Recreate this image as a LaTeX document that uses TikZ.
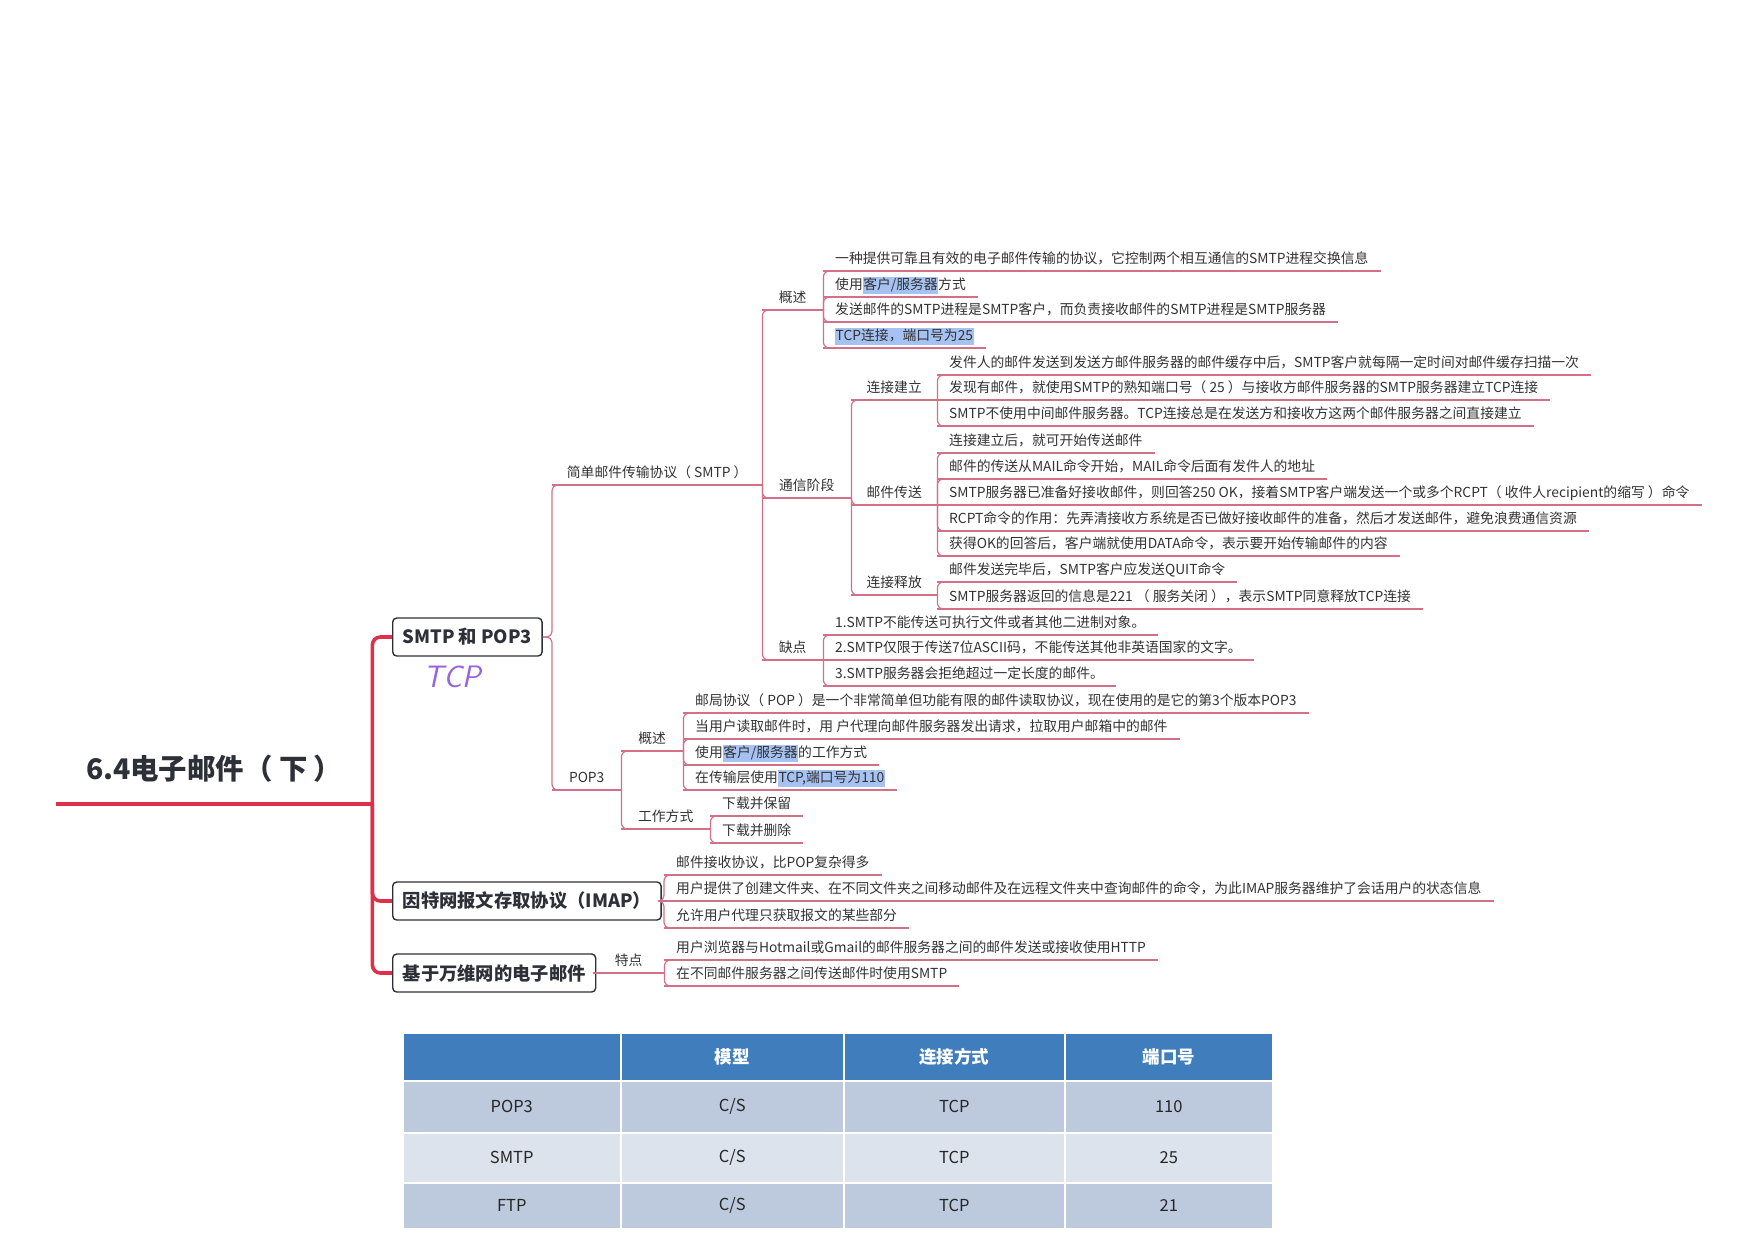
\documentclass[tikz,border=0pt]{standalone}
\usepackage{fontspec}
\setmainfont{Noto Sans CJK SC}
\usepackage{xcolor}
\definecolor{mapred}{RGB}{222,48,72}
\definecolor{linkred}{RGB}{212,112,134}
\definecolor{inkgray}{RGB}{50,50,50}
\definecolor{boxgray}{RGB}{45,48,56}
\definecolor{hlblue}{RGB}{165,194,242}
\definecolor{tcppurple}{RGB}{150,100,220}
\definecolor{tabhead}{RGB}{64,125,188}
\definecolor{tabdark}{RGB}{189,202,222}
\definecolor{tablight}{RGB}{220,227,237}
\usepackage{tikz}
\usetikzlibrary{positioning, calc}
\newcommand{\hlt}[1]{{\setlength{\fboxsep}{0.5pt}\colorbox{hlblue}{\rule[-4pt]{0pt}{15pt}#1}}}
\tikzset{
  link/.style={draw=linkred, line width=1.2pt, rounded corners=6pt},
  trunk/.style={draw=mapred, line width=3.6pt, rounded corners=8pt},
  uline/.style={draw=linkred, line width=1.2pt},
  leaf/.style={
    anchor=south west, inner xsep=12pt, inner ysep=4pt,
    text height=10pt, text depth=3.5pt, text=inkgray,
    font=\fontsize{13.8}{16}\selectfont,
    append after command={(\tikzlastnode.south west) edge[uline] (\tikzlastnode.south east)}
  },
  cat/.style={leaf, inner xsep=0pt, minimum width=#1},
  rootnode/.style={
    anchor=south west, minimum width=316pt, minimum height=70pt, inner sep=0pt,
    text=boxgray, font=\fontsize{28.4}{31}\selectfont\bfseries,
    append after command={(\tikzlastnode.south west) edge[draw=mapred, line width=4pt] (\tikzlastnode.south east)}
  },
  mainbox/.style={
    rectangle, rounded corners=4pt, draw=boxgray, line width=1.4pt, fill=white,
    anchor=west, inner xsep=10pt, minimum height=38pt, text=boxgray,
    font=\fontsize{18.3}{21}\selectfont\bfseries
  },
  scribble/.style={text=tcppurple, font=\sffamily\itshape\fontsize{31}{33}\selectfont},
  tcell/.style={
    anchor=north west, draw=white, line width=1.5pt, inner sep=0pt,
    text=black!85, font=\fontsize{16.5}{18}\selectfont
  },
  thead/.style={tcell, fill=tabhead, text=white, font=\fontsize{17.5}{19}\selectfont\bfseries},
}
\begin{document}
\begin{tikzpicture}[x=1pt, y=-1pt]
  \useasboundingbox (0,0) rectangle (1755,1240);

  % root and main topics
  \node (root)    [rootnode] at (56,804)  {6.4电子邮件（ 下 ）};
  \node (smtpbox) [mainbox]  at (392,637) {SMTP 和 POP3};
  \node (imapbox) [mainbox]  at (392,901) {因特网报文存取协议（IMAP）};
  \node (webbox)  [mainbox]  at (392,973) {基于万维网的电子邮件};
  \node (tcp)     [scribble] at (452,677) {TCP};

  % SMTP
  \node (smtp)   [cat=210pt] at (552,485) {简单邮件传输协议（ SMTP ）};
  \node (smtpov) [cat=61pt]  at (762,310) {概述};
  \node (ov1) [leaf] at (823,271) {一种提供可靠且有效的电子邮件传输的协议，它控制两个相互通信的SMTP进程交换信息};
  \node (ov2) [leaf] at (823,297) {使用\hlt{客户/服务器}方式};
  \node (ov3) [leaf] at (823,322) {发送邮件的SMTP进程是SMTP客户，而负责接收邮件的SMTP进程是SMTP服务器};
  \node (ov4) [leaf] at (823,348) {\hlt{TCP连接，端口号为25}};

  \node (comm) [cat=89pt] at (762,498) {通信阶段};
  \node (conn) [cat=86pt] at (851,400) {连接建立};
  \node (conn1) [leaf] at (937,375) {发件人的邮件发送到发送方邮件服务器的邮件缓存中后，SMTP客户就每隔一定时间对邮件缓存扫描一次};
  \node (conn2) [leaf] at (937,400) {发现有邮件，就使用SMTP的熟知端口号（ 25 ）与接收方邮件服务器的SMTP服务器建立TCP连接};
  \node (conn3) [leaf] at (937,426) {SMTP不使用中间邮件服务器。TCP连接总是在发送方和接收方这两个邮件服务器之间直接建立};
  \node (xfer) [cat=86pt] at (851,505) {邮件传送};
  \node (xfer1) [leaf] at (937,453) {连接建立后，就可开始传送邮件};
  \node (xfer2) [leaf] at (937,479) {邮件的传送从MAIL命令开始，MAIL命令后面有发件人的地址};
  \node (xfer3) [leaf] at (937,505) {SMTP服务器已准备好接收邮件，则回答250 OK，接着SMTP客户端发送一个或多个RCPT（ 收件人recipient的缩写 ）命令};
  \node (xfer4) [leaf] at (937,531) {RCPT命令的作用：先弄清接收方系统是否已做好接收邮件的准备，然后才发送邮件，避免浪费通信资源};
  \node (xfer5) [leaf] at (937,556) {获得OK的回答后，客户端就使用DATA命令，表示要开始传输邮件的内容};
  \node (rel) [cat=86pt] at (851,595) {连接释放};
  \node (rel1) [leaf] at (937,582) {邮件发送完毕后，SMTP客户应发送QUIT命令};
  \node (rel2) [leaf] at (937,609) {SMTP服务器返回的信息是221 （ 服务关闭 ），表示SMTP同意释放TCP连接};

  \node (cons) [cat=61pt] at (762,660) {缺点};
  \node (cons1) [leaf] at (823,635) {1.SMTP不能传送可执行文件或者其他二进制对象。};
  \node (cons2) [leaf] at (823,660) {2.SMTP仅限于传送7位ASCII码，不能传送其他非英语国家的文字。};
  \node (cons3) [leaf] at (823,686) {3.SMTP服务器会拒绝超过一定长度的邮件。};

  % POP3
  \node (pop)   [cat=69pt] at (552,790) {POP3};
  \node (popov) [cat=62pt] at (621,751) {概述};
  \node (pov1) [leaf] at (683,713) {邮局协议（ POP ）是一个非常简单但功能有限的邮件读取协议，现在使用的是它的第3个版本POP3};
  \node (pov2) [leaf] at (683,739) {当用户读取邮件时，用 户代理向邮件服务器发出请求，拉取用户邮箱中的邮件};
  \node (pov3) [leaf] at (683,765) {使用\hlt{客户/服务器}的工作方式};
  \node (pov4) [leaf] at (683,790) {在传输层使用\hlt{TCP,端口号为110}};
  \node (popway) [cat=89pt] at (621,829) {工作方式};
  \node (way1) [leaf] at (710,816) {下载并保留};
  \node (way2) [leaf] at (710,843) {下载并删除};

  % IMAP
  \node (imap1) [leaf] at (664,875) {邮件接收协议，比POP复杂得多};
  \node (imap2) [leaf] at (664,901) {用户提供了创建文件夹、在不同文件夹之间移动邮件及在远程文件夹中查询邮件的命令，为此IMAP服务器维护了会话用户的状态信息};
  \node (imap3) [leaf] at (664,928) {允许用户代理只获取报文的某些部分};

  % web mail
  \node (feat)  [cat=71pt] at (593,973) {特点};
  \node (feat1) [leaf] at (664,960) {用户浏览器与Hotmail或Gmail的邮件服务器之间的邮件发送或接收使用HTTP};
  \node (feat2) [leaf] at (664,986) {在不同邮件服务器之间传送邮件时使用SMTP};

  % connectors
  \draw[trunk] (root.south east) |- (smtpbox.west);
  \draw[trunk] (root.south east) |- (imapbox.west);
  \draw[trunk] (root.south east) |- (webbox.west);

  \draw[link] (smtpbox.east) -| (smtp.south west) -- ([xshift=8pt]smtp.south west);
  \draw[link] (smtpbox.east) -| (pop.south west) -- ([xshift=8pt]pop.south west);

  \draw[link] (smtp.south east) |- ([xshift=8pt]smtpov.south west);
  \draw[link] (smtp.south east) |- ([xshift=8pt]comm.south west);
  \draw[link] (smtp.south east) |- ([xshift=8pt]cons.south west);

  \draw[link] (smtpov.south east) |- ([xshift=8pt]ov1.south west);
  \draw[link] (smtpov.south east) |- ([xshift=8pt]ov2.south west);
  \draw[link] (smtpov.south east) |- ([xshift=8pt]ov3.south west);
  \draw[link] (smtpov.south east) |- ([xshift=8pt]ov4.south west);

  \draw[link] (comm.south east) |- ([xshift=8pt]conn.south west);
  \draw[link] (comm.south east) |- ([xshift=8pt]xfer.south west);
  \draw[link] (comm.south east) |- ([xshift=8pt]rel.south west);

  \draw[link] (conn.south east) |- ([xshift=8pt]conn1.south west);
  \draw[link] (conn.south east) |- ([xshift=8pt]conn3.south west);
  \draw[link] (xfer.south east) |- ([xshift=8pt]xfer1.south west);
  \draw[link] (xfer.south east) |- ([xshift=8pt]xfer2.south west);
  \draw[link] (xfer.south east) |- ([xshift=8pt]xfer4.south west);
  \draw[link] (xfer.south east) |- ([xshift=8pt]xfer5.south west);
  \draw[link] (rel.south east) |- ([xshift=8pt]rel1.south west);
  \draw[link] (rel.south east) |- ([xshift=8pt]rel2.south west);

  \draw[link] (cons.south east) |- ([xshift=8pt]cons1.south west);
  \draw[link] (cons.south east) |- ([xshift=8pt]cons3.south west);

  \draw[link] (pop.south east) |- ([xshift=8pt]popov.south west);
  \draw[link] (pop.south east) |- ([xshift=8pt]popway.south west);
  \draw[link] (popov.south east) |- ([xshift=8pt]pov1.south west);
  \draw[link] (popov.south east) |- ([xshift=8pt]pov2.south west);
  \draw[link] (popov.south east) |- ([xshift=8pt]pov3.south west);
  \draw[link] (popov.south east) |- ([xshift=8pt]pov4.south west);
  \draw[link] (popway.south east) |- ([xshift=8pt]way1.south west);
  \draw[link] (popway.south east) |- ([xshift=8pt]way2.south west);

  \draw[link] (imapbox.east) -| (imap1.south west) -- ([xshift=8pt]imap1.south west);
  \draw[link] (imapbox.east) -- (imap2.south west);
  \draw[link] (imapbox.east) -| (imap3.south west) -- ([xshift=8pt]imap3.south west);

  \draw[link] (feat.south east) |- ([xshift=8pt]feat1.south west);
  \draw[link] (feat.south east) |- ([xshift=8pt]feat2.south west);

  % port table
  \node (h0) [thead, minimum width=218pt, minimum height=48pt] at (402,1032) {};
  \node (h1) [thead, minimum width=223pt, minimum height=48pt] at (620,1032) {模型};
  \node (h2) [thead, minimum width=221pt, minimum height=48pt] at (843,1032) {连接方式};
  \node (h3) [thead, minimum width=208pt, minimum height=48pt] at (1064,1032) {端口号};

  \node (a0) [tcell, fill=tabdark, minimum width=218pt, minimum height=52pt] at (402,1080) {POP3};
  \node (a1) [tcell, fill=tabdark, minimum width=223pt, minimum height=52pt] at (620,1080) {C/S};
  \node (a2) [tcell, fill=tabdark, minimum width=221pt, minimum height=52pt] at (843,1080) {TCP};
  \node (a3) [tcell, fill=tabdark, minimum width=208pt, minimum height=52pt] at (1064,1080) {110};

  \node (b0) [tcell, fill=tablight, minimum width=218pt, minimum height=50pt] at (402,1132) {SMTP};
  \node (b1) [tcell, fill=tablight, minimum width=223pt, minimum height=50pt] at (620,1132) {C/S};
  \node (b2) [tcell, fill=tablight, minimum width=221pt, minimum height=50pt] at (843,1132) {TCP};
  \node (b3) [tcell, fill=tablight, minimum width=208pt, minimum height=50pt] at (1064,1132) {25};

  \node (c0) [tcell, fill=tabdark, minimum width=218pt, minimum height=46pt] at (402,1182) {FTP};
  \node (c1) [tcell, fill=tabdark, minimum width=223pt, minimum height=46pt] at (620,1182) {C/S};
  \node (c2) [tcell, fill=tabdark, minimum width=221pt, minimum height=46pt] at (843,1182) {TCP};
  \node (c3) [tcell, fill=tabdark, minimum width=208pt, minimum height=46pt] at (1064,1182) {21};
\end{tikzpicture}
\end{document}
